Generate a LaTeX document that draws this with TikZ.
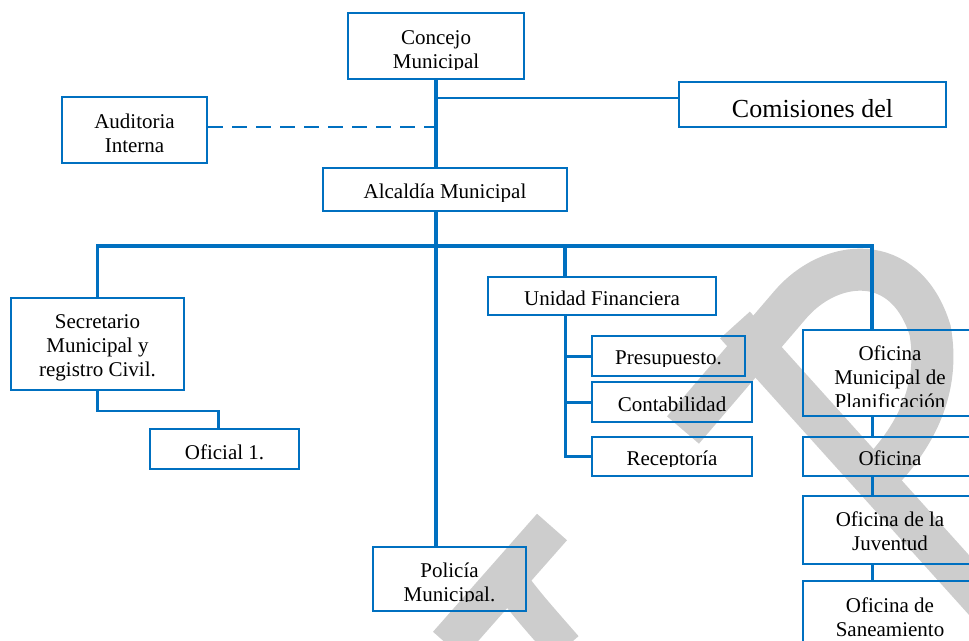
\documentclass[tikz,border=0pt]{standalone}
\usepackage{fontspec}
\setmainfont{Liberation Serif}
\definecolor{orgblue}{RGB}{0,112,192}
\definecolor{wmgray}{RGB}{205,205,205}

\begin{document}
\begin{tikzpicture}[x=1pt,y=-1pt,
  box/.style 2 args={draw=orgblue, line width=2.2pt, inner sep=0pt,
    path picture={\clip ([yshift=10pt]path picture bounding box.south west) rectangle (path picture bounding box.north east);
      \node[anchor=base, align=center, inner sep=0pt, font=\fontsize{21}{24}\selectfont]
        at ([yshift=-#2]path picture bounding box.north) {#1};}},
  trunk/.style={draw=orgblue, line width=3.8pt},
  link/.style={draw=orgblue, line width=3pt},
  thin/.style={draw=orgblue, line width=2.2pt},
  wm/.style={draw=wmgray, line width=42pt}]

  \useasboundingbox (0,0) rectangle (969,640);
  \clip (0,0) rectangle (969,640);

% watermark in the back
  \draw[wm] (683,430) -- (790,305) .. controls (830,258) and (905,250) .. (930,330)
            .. controls (940,385) and (920,440) .. (860,492);
  \draw[wm, line width=40pt] (735,325) -- (1050,675);
  \draw[wm, line width=40pt] (552,527) -- (448,645);
  \draw[wm, line width=36pt] (512,585) .. controls (530,608) .. (565,648);

% define the boxes (second value: top of box to last baseline)
  \node[box={Concejo\\Municipal}{55pt}, minimum width=176pt, minimum height=66pt] (cm) at (436,46) {};
  \node[box={\fontsize{26}{30}\selectfont Comisiones del}{35pt}, minimum width=267pt, minimum height=45pt] (com) at (812.5,104.5) {};
  \node[box={Auditoria\\Interna}{55pt}, minimum width=145pt, minimum height=66pt] (au) at (134.5,130) {};
  \node[box={Alcaldía Municipal}{30pt}, minimum width=244pt, minimum height=43pt] (al) at (445,189.5) {};
  \node[box={Secretario\\Municipal y\\registro Civil.}{78pt}, minimum width=173pt, minimum height=92pt] (sec) at (97.5,344) {};
  \node[box={Oficial 1.}{30pt}, minimum width=149pt, minimum height=40pt] (of1) at (224.5,449) {};
  \node[box={Unidad Financiera}{28pt}, minimum width=228pt, minimum height=38pt] (uf) at (602,296) {};
  \node[box={Presupuesto.}{28pt}, minimum width=153pt, minimum height=40pt] (pre) at (668.5,356) {};
  \node[box={Contabilidad}{29pt}, minimum width=160pt, minimum height=40pt] (con) at (672,402) {};
  \node[box={Receptoría}{28.5pt}, minimum width=160pt, minimum height=39pt] (rec) at (672,456.5) {};
  \node[box={Oficina\\Municipal de\\Planificación}{78pt}, minimum width=174pt, minimum height=86pt] (omp) at (890,373) {};
  \node[box={Oficina}{28.5pt}, minimum width=174pt, minimum height=39pt] (ofi) at (890,456.5) {};
  \node[box={Oficina de la\\Juventud}{54pt}, minimum width=174pt, minimum height=68pt] (juv) at (890,530) {};
  \node[box={Oficina de\\Saneamiento}{55pt}, minimum width=174pt, minimum height=66pt] (san) at (890,614) {};
  \node[box={Policía\\Municipal.}{54pt}, minimum width=153pt, minimum height=64pt] (pol) at (449.5,579) {};

  \coordinate (tc) at (436,98);
  \coordinate (ud) at (565,246);
  \coordinate (br) at (872,246);

% define the links
  \draw[trunk] (cm.south) -- (cm.south |- al.north);
  \draw[trunk] (cm.south |- al.south) -- (cm.south |- pol.north);
  \draw[thin] (tc) -- (tc -| com.west);
  \draw[thin, dash pattern=on 15pt off 9pt] ([yshift=3pt]au.east) -- ([yshift=3pt]au.east -| cm.south);
  \draw[trunk] (sec.north) |- (br) -- (br |- omp.north);
  \draw[trunk] (ud) -- (ud |- uf.north);
  \draw[thin] (sec.south) -- ++(0,20) -| ([xshift=-6pt]of1.north);
  \draw[link] (ud |- uf.south) |- (rec.west);
  \draw[link] (ud |- pre.west) -- (pre.west);
  \draw[link] (ud |- con.west) -- (con.west);
  \draw[link] (br |- omp.south) -- (br |- ofi.north);
  \draw[link] (br |- ofi.south) -- (br |- juv.north);
  \draw[link] (br |- juv.south) -- (br |- san.north);

\end{tikzpicture}
\end{document}
